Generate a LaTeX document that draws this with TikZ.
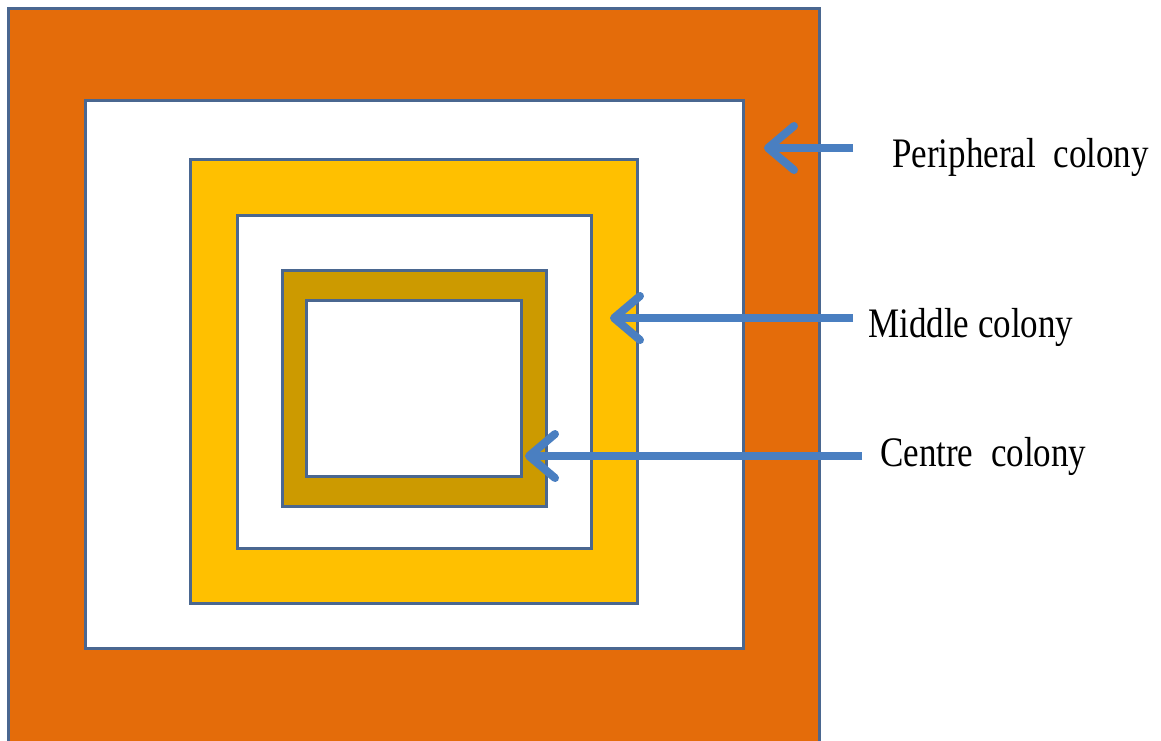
\documentclass[tikz,border=0pt]{standalone}
\usepackage{fontspec}
\setmainfont{Liberation Serif}
\usetikzlibrary{arrows.meta}
\definecolor{borange}{HTML}{E46C0A}
\definecolor{byellow}{HTML}{FFC000}
\definecolor{bgold}{HTML}{CC9A00}
\definecolor{bedge}{HTML}{4A6790}
\definecolor{barrow}{HTML}{4A7FC1}
\newcommand{\tallcap}[1]{\scalebox{1}[1.2]{#1}}
\tikzset{
  band/.style={draw=bedge, line width=2.5pt, rectangle, inner sep=0pt, anchor=north west},
  lab/.style={anchor=base west, inner sep=0pt, font=\fontsize{35}{40}\selectfont},
  ptr/.style={draw=barrow, line width=8pt, -{Straight Barb[length=26pt 0, width=44pt 0, round]}}
}
\begin{document}
\begin{tikzpicture}[x=1pt,y=-1pt]
\useasboundingbox (0,0) rectangle (1161,740);
\fill[white] (0,0) rectangle (1161,740);
\node[band, fill=borange, minimum width=811pt, minimum height=735pt] (outer) at (7,7) {};
\node[band, fill=white, minimum width=658pt, minimum height=548pt] (white1) at (84,99) {};
\node[band, fill=byellow, minimum width=447pt, minimum height=444pt] (yellow) at (189,158) {};
\node[band, fill=white, minimum width=354pt, minimum height=333pt] (white2) at (236,214) {};
\node[band, fill=bgold, minimum width=264pt, minimum height=236pt] (gold) at (281,269) {};
\node[band, fill=white, minimum width=215pt, minimum height=176pt] (inner) at (305,299) {};
\node[lab] (plab) at (892,167) {\tallcap{Peripheral\ \ colony}};
\node[lab] (mlab) at (868,337) {\tallcap{Middle colony}};
\node[lab] (clab) at (880,466) {\tallcap{Centre\ \ colony}};
\coordinate (ps) at (853,148);
\coordinate (pt) at (764,148);
\coordinate (ms) at (853,318);
\coordinate (mt) at (610,318);
\coordinate (cs) at (862,456);
\coordinate (ct) at (525,456);
\draw[ptr] (ps) -- (pt);
\draw[ptr] (ms) -- (mt);
\draw[ptr] (cs) -- (ct);
\end{tikzpicture}
\end{document}
